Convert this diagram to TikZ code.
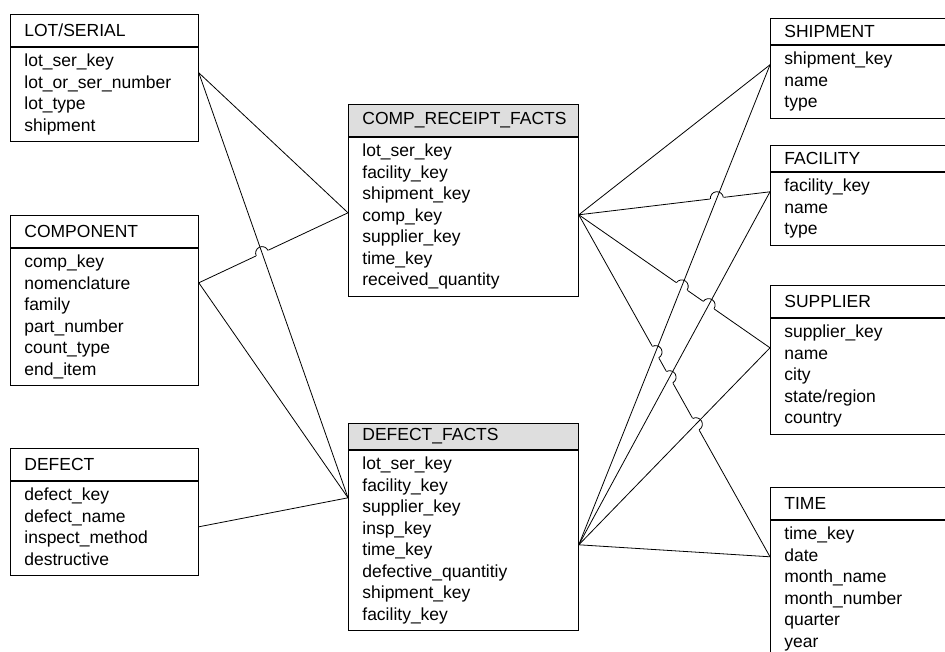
\documentclass[tikz,border=0pt]{standalone}
\usepackage{fontspec}
\setmainfont{Liberation Sans}
\usetikzlibrary{positioning,calc,intersections}

\tikzset{
  tblhead/.style={draw, line width=0.8pt, anchor=north west, minimum height=32pt,
    inner xsep=14pt, align=left, font=\fontsize{17.5}{21.5}\selectfont},
  facthead/.style={tblhead, fill=black!13},
  tblbody/.style={draw, line width=0.8pt, inner xsep=14pt, inner ysep=4.3pt, align=left,
    font=\fontsize{17.5}{21.5}\selectfont,
    execute at begin node=\strut, execute at end node=\strut},
  link/.style={line width=0.8pt}
}

% bump of a connector over the line it crosses
\newcommand{\linehop}[3]{%
  \draw[link] let \p1=($(#3)-(#2)$), \n1={atan2(\y1,\x1)} in
    ($(#1)+(\n1+180:6.5pt)$) arc[start angle=\n1+180, delta angle=-180, radius=6.5pt];
}

\begin{document}
\begin{tikzpicture}[x=1pt, y=-1pt]
    \useasboundingbox (0,0) rectangle (945,652);
    \clip (0,0) rectangle (945,652);

    % Draw dimension tables (left)
    \node[tblhead, text width=160pt] (lotH) at (10,14) {LOT/SERIAL};
    \node[tblbody, text width=160pt, below=0pt of lotH] (lotB)
        {lot\_ser\_key\\lot\_or\_ser\_number\\lot\_type\\shipment};
    \node[tblhead, text width=160pt] (cmpH) at (10,215) {COMPONENT};
    \node[tblbody, text width=160pt, below=0pt of cmpH] (cmpB)
        {comp\_key\\nomenclature\\family\\part\_number\\count\_type\\end\_item};
    \node[tblhead, text width=160pt] (defH) at (10,448) {DEFECT};
    \node[tblbody, text width=160pt, below=0pt of defH] (defB)
        {defect\_key\\defect\_name\\inspect\_method\\destructive};

    % Draw fact tables
    \node[facthead, text width=202pt] (crfH) at (348,104) {COMP\_RECEIPT\_FACTS};
    \node[tblbody, text width=202pt, below=0pt of crfH] (crfB)
        {lot\_ser\_key\\facility\_key\\shipment\_key\\comp\_key\\supplier\_key\\time\_key\\received\_quantity};
    \node[facthead, text width=202pt, minimum height=26pt] (dfH) at (348,423) {DEFECT\_FACTS};
    \node[tblbody, text width=202pt, below=0pt of dfH] (dfB)
        {lot\_ser\_key\\facility\_key\\supplier\_key\\insp\_key\\time\_key\\defective\_quantitiy\\shipment\_key\\facility\_key};

    % Draw dimension tables (right)
    \node[tblhead, text width=172pt, minimum height=26pt] (shpH) at (770,18) {SHIPMENT};
    \node[tblbody, text width=172pt, below=0pt of shpH] (shpB)
        {shipment\_key\\name\\type};
    \node[tblhead, text width=172pt, minimum height=26pt] (facH) at (770,145) {FACILITY};
    \node[tblbody, text width=172pt, below=0pt of facH] (facB)
        {facility\_key\\name\\type};
    \node[tblhead, text width=172pt] (supH) at (770,285) {SUPPLIER};
    \node[tblbody, text width=172pt, below=0pt of supH] (supB)
        {supplier\_key\\name\\city\\state/region\\country};
    \node[tblhead, text width=172pt] (timH) at (770,487) {TIME};
    \node[tblbody, text width=172pt, below=0pt of timH] (timB)
        {time\_key\\date\\month\_name\\month\_number\\quarter\\year};

    % Attachment points
    \coordinate (lotR) at ([yshift=-26pt]lotB.north east);
    \coordinate (cmpR) at ([yshift=-35pt]cmpB.north east);
    \coordinate (defR) at ([yshift=-46pt]defB.north east);
    \coordinate (crfL) at ([yshift=-76pt]crfB.north west);
    \coordinate (crfR) at ([yshift=-78pt]crfB.north east);
    \coordinate (dfL) at ([yshift=-48pt]dfB.north west);
    \coordinate (dfR) at ([yshift=-95pt]dfB.north east);
    \coordinate (shpL) at ([yshift=-20pt]shpB.north west);
    \coordinate (facL) at ([yshift=-20pt]facB.north west);
    \coordinate (supL) at ([yshift=-30pt]supB.north west);
    \coordinate (timL) at ([yshift=-37pt]timB.north west);

    % Paths for crossings
    \path[name path=cmpCrf] (cmpR) -- (crfL);
    \path[name path=lotDf] (lotR) -- (dfL);
    \path[name path=crfFac] (crfR) -- (facL);
    \path[name path=crfSup] (crfR) -- (supL);
    \path[name path=crfTim] (crfR) -- (timL);
    \path[name path=dfShp] (dfR) -- (shpL);
    \path[name path=dfFac] (dfR) -- (facL);
    \path[name path=dfSup] (dfR) -- (supL);
    \path[name intersections={of=cmpCrf and lotDf, by=h7}];
    \path[name intersections={of=crfFac and dfShp, by=h1}];
    \path[name intersections={of=crfSup and dfShp, by=h2}];
    \path[name intersections={of=crfSup and dfFac, by=h3}];
    \path[name intersections={of=crfTim and dfShp, by=h4}];
    \path[name intersections={of=crfTim and dfFac, by=h5}];
    \path[name intersections={of=crfTim and dfSup, by=h6}];

    % Draw edges (the ones that hop)
    \draw[link] (cmpR) -- (crfL);
    \draw[link] (crfR) -- (shpL);
    \draw[link] (crfR) -- (facL);
    \draw[link] (crfR) -- (supL);
    \draw[link] (crfR) -- (timL);
    \foreach \h in {h1,h2,h3,h4,h5,h6,h7}
        \fill[white] (\h) circle[radius=7pt];

    % Draw edges (the ones below)
    \draw[link] (lotR) -- (crfL);
    \draw[link] (lotR) -- (dfL);
    \draw[link] (cmpR) -- (dfL);
    \draw[link] (defR) -- (dfL);
    \draw[link] (dfR) -- (shpL);
    \draw[link] (dfR) -- (facL);
    \draw[link] (dfR) -- (supL);
    \draw[link] (dfR) -- (timL);

    % Draw hops
    \foreach \h/\a/\b in {h1/crfR/facL, h2/crfR/supL, h3/crfR/supL, h4/crfR/timL,
                          h5/crfR/timL, h6/crfR/timL, h7/cmpR/crfL}
        {\linehop{\h}{\a}{\b}}
\end{tikzpicture}
\end{document}
